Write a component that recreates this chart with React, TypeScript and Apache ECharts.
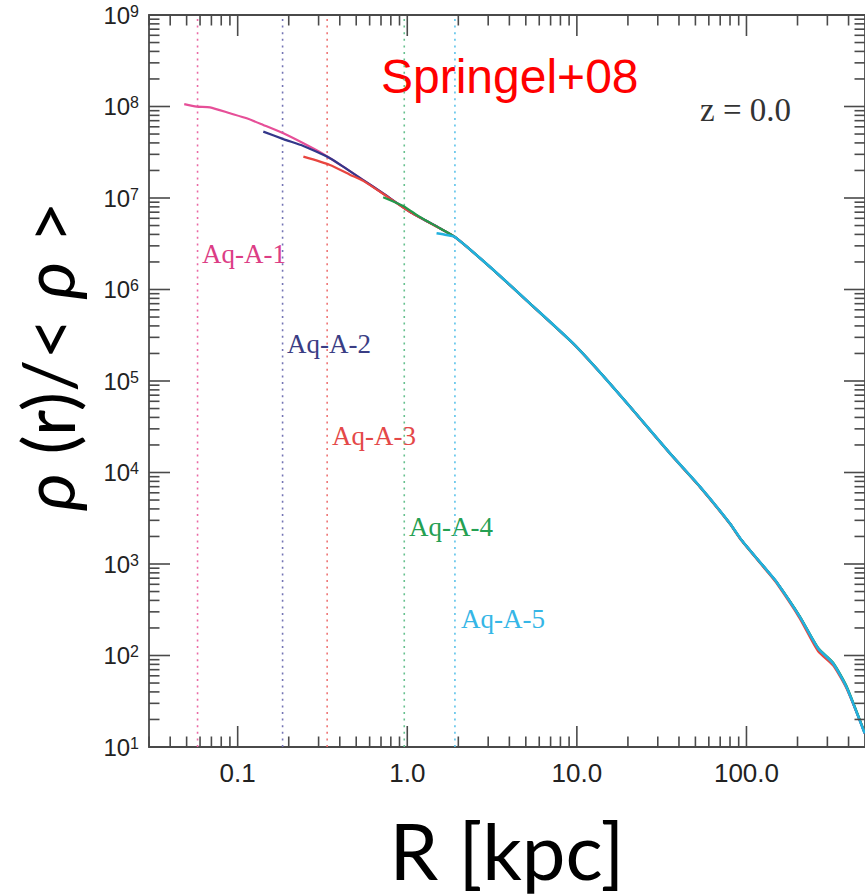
import React, { useEffect, useRef } from "react";
import * as echarts from "echarts";

// ---- axis ranges ----
const X_MIN = 0.03;
const X_MAX = 500;
const Y_MIN = 10;
const Y_MAX = 1e9;

// ---- tick values ----
const xMajorTicks = [0.1, 1, 10, 100];
const yMajorTicks = [1e1, 1e2, 1e3, 1e4, 1e5, 1e6, 1e7, 1e8, 1e9];
const minorMultipliers = [2, 3, 4, 5, 6, 7, 8, 9];

// ---- density profiles (R [kpc], rho/<rho>) ----
const rA1 = [0.0484, 0.0573, 0.0687, 0.0901, 0.113, 0.1416, 0.186, 0.244, 0.319, 0.419, 0.55, 0.721, 1.036, 1.556, 1.908, 3.07, 5.28, 9.5, 13.6, 21.4, 35.4, 53.2, 79.7, 93.4, 134, 150, 206, 264, 324, 388, 498];
const rhoA1 = [1.06e8, 9.95e7, 9.8e7, 8.43e7, 7.43e7, 6.28e7, 5.09e7, 3.96e7, 3.03e7, 2.2e7, 1.57e7, 1.12e7, 7.08e6, 4.67e6, 3.75e6, 1.77e6, 7.06e5, 2.58e5, 1.26e5, 4.82e4, 1.62e4, 7.0e3, 2.79e3, 1.83e3, 824, 641, 266, 120, 82, 45.6, 14.1];

const rA2 = [0.1416, 0.186, 0.244, 0.29, 0.35, 0.419, 0.55, 0.721, 1.036, 1.556, 1.908, 3.07, 5.28, 9.5, 13.6, 21.4, 35.4, 53.2, 79.7, 93.4, 134, 150, 206, 264, 324, 388, 498];
const rhoA2 = [5.31e7, 4.4e7, 3.7e7, 3.22e7, 2.72e7, 2.2e7, 1.57e7, 1.12e7, 7.08e6, 4.67e6, 3.75e6, 1.77e6, 7.06e5, 2.58e5, 1.26e5, 4.82e4, 1.62e4, 7.0e3, 2.79e3, 1.83e3, 824, 641, 266, 120, 82, 45.6, 14.1];

const rA3 = [0.244, 0.35, 0.459, 0.55, 0.721, 1.036, 1.556, 1.908, 3.07, 5.28, 9.5, 13.6, 21.4, 35.4, 53.2, 79.7, 93.4, 134, 150, 206, 264, 324, 388, 498];
const rhoA3 = [2.83e7, 2.3e7, 1.8e7, 1.54e7, 1.11e7, 7.05e6, 4.66e6, 3.74e6, 1.76e6, 7.0e5, 2.56e5, 1.25e5, 4.78e4, 1.6e4, 6.9e3, 2.74e3, 1.8e3, 805, 620, 255, 112, 78, 44, 14.5];

const rA4 = [0.721, 0.946, 1.187, 1.556, 1.908, 3.07, 5.28, 9.5, 13.6, 21.4, 35.4, 53.2, 79.7, 93.4, 134, 150, 206, 264, 324, 388, 498];
const rhoA4 = [1.02e7, 8.18e6, 6.19e6, 4.67e6, 3.75e6, 1.77e6, 7.06e5, 2.58e5, 1.26e5, 4.82e4, 1.62e4, 7.0e3, 2.79e3, 1.83e3, 824, 641, 270, 122, 84, 47, 14.3];

const rA5 = [1.488, 1.704, 1.908, 3.07, 5.28, 9.5, 13.6, 21.4, 35.4, 53.2, 79.7, 93.4, 134, 150, 206, 264, 324, 388, 498];
const rhoA5 = [4.11e6, 3.94e6, 3.75e6, 1.77e6, 7.06e5, 2.58e5, 1.26e5, 4.82e4, 1.62e4, 7.0e3, 2.79e3, 1.83e3, 824, 641, 266, 120, 82, 45.6, 14.1];

// ---- convergence radii (dotted guides) ----
const haloNames = ["Aq-A-1", "Aq-A-2", "Aq-A-3", "Aq-A-4", "Aq-A-5"];
const convergenceR = [0.058, 0.184, 0.337, 0.96, 1.91];
const lineColors = ["#e64f98", "#33378a", "#e8453f", "#22994c", "#22b1de"];
const guideColors = ["#ea6aa5", "#7474b4", "#ee7474", "#66c08e", "#5cc3ea"];
const labelColors = ["#dc3d85", "#3a3d84", "#e44848", "#24a052", "#35b6e6"];
// label anchor positions (pixel, left x / text middle y)
const labelPos = [
  [202, 254],
  [287, 344],
  [332, 436],
  [409, 527],
  [461, 619],
];

const profilesR = [rA1, rA2, rA3, rA4, rA5];
const profilesRho = [rhoA1, rhoA2, rhoA3, rhoA4, rhoA5];

function minorTicks(lo: number, hi: number, eFrom: number, eTo: number) {
  const out: number[] = [];
  for (let e = eFrom; e <= eTo; e++) {
    for (const m of minorMultipliers) {
      const v = m * Math.pow(10, e);
      if (v > lo * 1.0001 && v < hi * 0.9999) out.push(v);
    }
  }
  return out;
}

const xMinorTicks = minorTicks(X_MIN * 0.99, X_MAX, -2, 2);
const yMinorTicks = minorTicks(Y_MIN, Y_MAX, 1, 8);

const SANS = "'Liberation Sans', Arial, Helvetica, sans-serif";
const SERIF = "'Liberation Serif', 'Times New Roman', serif";
const HUMANIST = "Lato, 'Open Sans', 'DejaVu Sans', sans-serif";

export default function App() {
  const ref = useRef<HTMLDivElement>(null);

  useEffect(() => {
    if (!ref.current) return;
    const chart = echarts.init(ref.current, undefined, { renderer: "svg" });

    const series: any[] = [];

    convergenceR.forEach((r, i) => {
      series.push({
        type: "line",
        name: haloNames[i] + " conv",
        data: [
          [r, Y_MIN],
          [r, Y_MAX],
        ],
        symbol: "none",
        silent: true,
        lineStyle: { color: guideColors[i], width: 1.6, type: [2, 4.6] },
        z: 1,
      });
    });

    profilesR.forEach((rs, i) => {
      series.push({
        type: "line",
        name: haloNames[i],
        data: rs.map((r, j) => [r, profilesRho[i][j]]),
        symbol: "none",
        smooth: 0.2,
        silent: true,
        lineStyle: { color: lineColors[i], width: i === 4 ? 2.6 : 2.2 },
        z: 2 + i,
      });
    });

    series.push({
      type: "custom",
      name: "ticks",
      silent: true,
      z: 10,
      data: [[1, 1000]],
      renderItem: (_params: any, api: any) => {
        const [, yb] = api.coord([X_MIN, Y_MIN]);
        const [, yt] = api.coord([X_MAX, Y_MAX]);
        const xl = api.coord([X_MIN, Y_MIN])[0];
        const xr = api.coord([X_MAX, Y_MIN])[0];
        const st = { stroke: "#4a4a4a", lineWidth: 1.6 };
        const children: any[] = [];
        const addX = (v: number, len: number) => {
          const x = api.coord([v, Y_MIN])[0];
          children.push({ type: "line", shape: { x1: x, y1: yb, x2: x, y2: yb - len }, style: st });
          children.push({ type: "line", shape: { x1: x, y1: yt, x2: x, y2: yt + len }, style: st });
        };
        const addY = (v: number, len: number) => {
          const y = api.coord([X_MIN, v])[1];
          children.push({ type: "line", shape: { x1: xl, y1: y, x2: xl + len, y2: y }, style: st });
          children.push({ type: "line", shape: { x1: xr, y1: y, x2: xr - len, y2: y }, style: st });
        };
        xMajorTicks.forEach((v) => addX(v, 21));
        xMinorTicks.forEach((v) => addX(v, 10.5));
        yMajorTicks.forEach((v) => addY(v, 21));
        yMinorTicks.forEach((v) => addY(v, 10.5));
        return { type: "group", children };
      },
    });

    const graphics: any[] = [
      {
        type: "text",
        x: 381,
        y: 76,
        style: {
          text: "Springel+08",
          font: `48px ${SANS}`,
          fill: "#ff0000",
          textAlign: "left",
          textVerticalAlign: "middle",
        },
      },
      {
        type: "text",
        x: 700,
        y: 110,
        style: {
          text: "z = 0.0",
          font: `33px ${SERIF}`,
          fill: "#333333",
          textAlign: "left",
          textVerticalAlign: "middle",
        },
      },
      {
        type: "text",
        x: 507,
        y: 850,
        style: {
          text: "R [kpc]",
          font: `78px ${HUMANIST}`,
          fill: "#000000",
          textAlign: "center",
          textVerticalAlign: "middle",
        },
      },
      {
        type: "text",
        x: 47,
        y: 356,
        rotation: Math.PI / 2,
        style: {
          text: "{i|ρ} (r)/< {i|ρ} >",
          font: `72px ${HUMANIST}`,
          fill: "#000000",
          textAlign: "center",
          textVerticalAlign: "middle",
          rich: {
            i: { fontStyle: "italic", fontSize: 72, fontFamily: HUMANIST },
          },
        },
      },
    ];
    haloNames.forEach((n, i) => {
      graphics.push({
        type: "text",
        x: labelPos[i][0],
        y: labelPos[i][1],
        style: {
          text: n,
          font: `27px ${SERIF}`,
          fill: labelColors[i],
          textAlign: "left",
          textVerticalAlign: "middle",
        },
      });
    });

    chart.setOption({
      animation: false,
      backgroundColor: "#ffffff",
      grid: {
        left: 149,
        top: 15,
        width: 716,
        height: 732,
        show: true,
        borderColor: "#4a4a4a",
        borderWidth: 1.8,
        backgroundColor: "transparent",
        containLabel: false,
      },
      xAxis: {
        type: "log",
        logBase: 10,
        min: X_MIN,
        max: X_MAX,
        axisLine: { show: false },
        axisTick: { show: false },
        splitLine: { show: false },
        minorTick: { show: false },
        axisLabel: {
          margin: 13,
          showMinLabel: false,
          showMaxLabel: false,
          fontSize: 26,
          fontFamily: SANS,
          color: "#222222",
          formatter: (v: number) => (v < 1 ? String(v) : v.toFixed(1)),
        },
      },
      yAxis: {
        type: "log",
        logBase: 10,
        min: Y_MIN,
        max: Y_MAX,
        axisLine: { show: false },
        axisTick: { show: false },
        splitLine: { show: false },
        minorTick: { show: false },
        axisLabel: {
          margin: 10,
          color: "#222222",
          formatter: (v: number) => `{b|10}{s|${Math.round(Math.log10(v))}}`,
          rich: {
            b: { fontSize: 24, lineHeight: 24, fontFamily: SANS, color: "#222222" },
            s: { fontSize: 16, lineHeight: 13, verticalAlign: "top", fontFamily: SANS, color: "#222222" },
          },
        },
      },
      graphic: graphics,
      series,
    });

    return () => chart.dispose();
  }, []);

  return (
    <div
      ref={ref}
      style={{ position: "absolute", left: 0, top: 0, width: 865, height: 896, background: "#fff" }}
    />
  );
}
